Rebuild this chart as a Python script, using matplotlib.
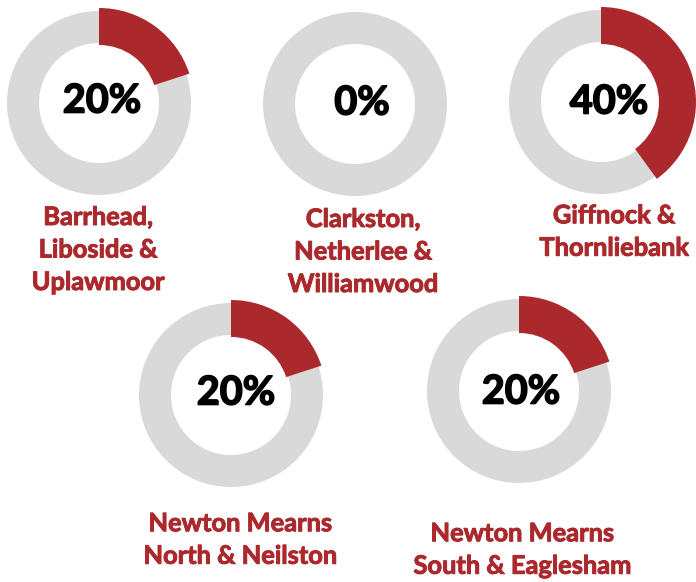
import matplotlib
matplotlib.use("Agg")
import matplotlib.pyplot as plt
import matplotlib.patheffects as pe

labels = ["Barrhead,\nLiboside &\nUplawmoor",
          "Clarkston,\nNetherlee &\nWilliamwood",
          "Giffnock &\nThornliebank",
          "Newton Mearns\nNorth & Neilston",
          "Newton Mearns\nSouth & Eaglesham"]
values = [20, 0, 40, 20, 20]

RED = "#AB292D"
GREY = "#D9D9D9"
W, H = 696, 582

# layout (pixel coords, y from top)
centers = [(99, 103), (355, 104), (601, 102), (231, 395), (519, 391)]
pct_pos = [(102, 101), (362, 103), (609, 102), (236, 393), (521, 392)]
label_pos = [(98, 250), (363, 252), (614, 232), (240, 540), (522, 550)]
R_OUT = 92
R_IN = 60

plt.rcParams['font.family'] = ['Lato', 'DejaVu Sans']
fig = plt.figure(figsize=(W / 100, H / 100), dpi=100)
ax = fig.add_axes([0, 0, 1, 1])

for lab, v, (cx, cy), (px, py), (lx, ly) in zip(labels, values, centers, pct_pos, label_pos):
    c = (cx, H - cy)
    ax.pie([100], colors=[GREY], radius=R_OUT, center=c, startangle=90,
           counterclock=False, wedgeprops=dict(width=R_OUT - R_IN, linewidth=0),
           frame=True)
    if v > 0:
        ax.pie([v, 100 - v], colors=[RED, 'none'], radius=R_OUT + 3, center=c,
               startangle=90, counterclock=False,
               wedgeprops=dict(width=R_OUT - R_IN + 5, linewidth=0),
               frame=True)
    ax.text(px, H - py, f"{v}%", ha='center', va='center', fontsize=28.5,
            fontweight='bold', color='black',
            path_effects=[pe.withStroke(linewidth=1.2, foreground='black')])
    ax.text(lx, H - ly, lab, ha='center', va='center', fontsize=18.3,
            fontweight='bold', color=RED, linespacing=1.5,
            path_effects=[pe.withStroke(linewidth=0.7, foreground=RED)])

ax.set_xlim(0, W)
ax.set_ylim(0, H)
ax.set_aspect('equal')
ax.axis('off')
fig.savefig("out.png", dpi=100)
